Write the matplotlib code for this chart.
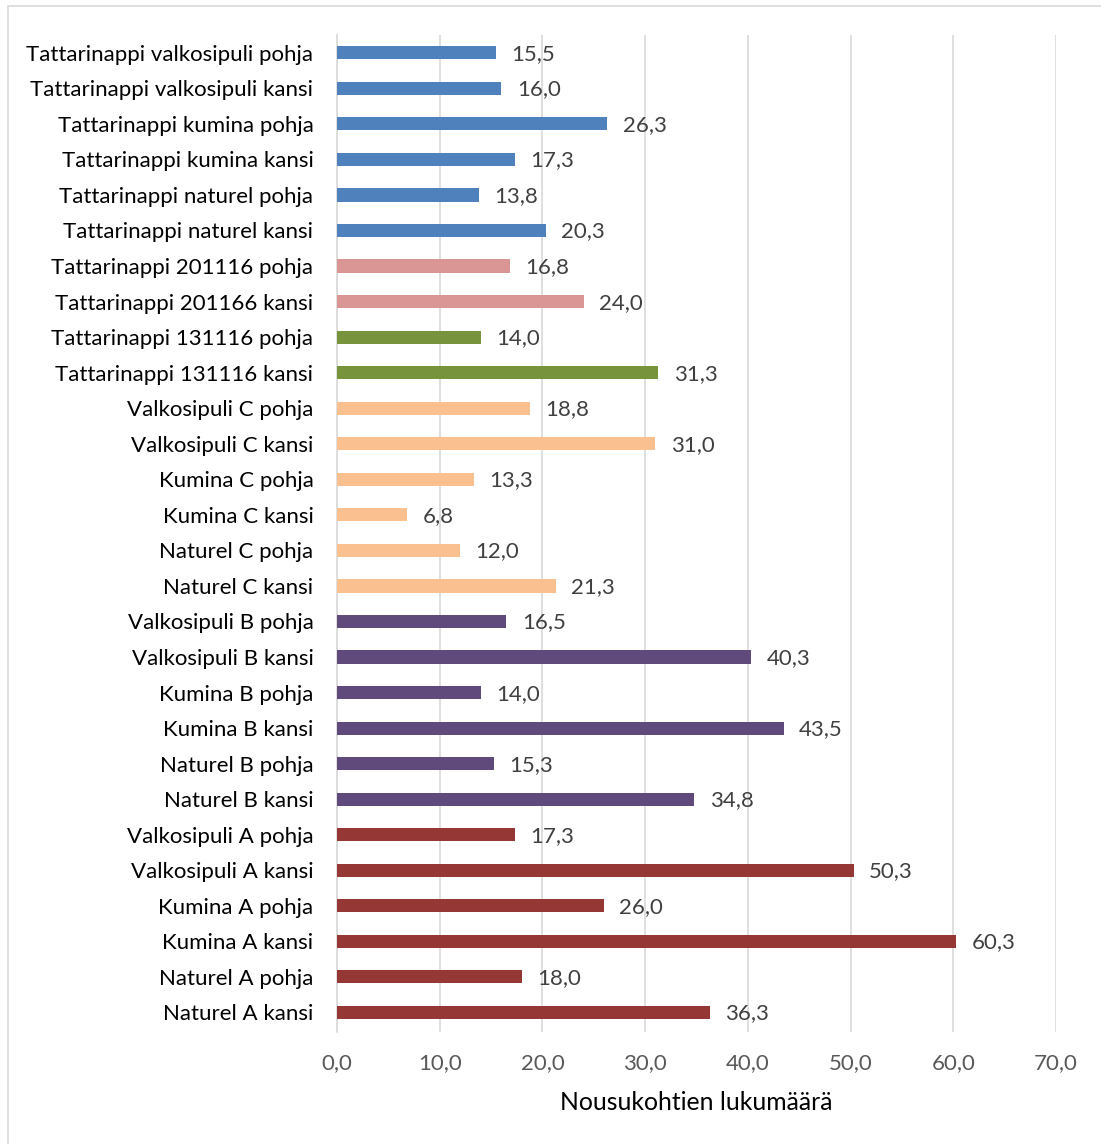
import matplotlib
matplotlib.use("Agg")
from matplotlib import pyplot
from matplotlib.patches import Rectangle

# rows listed bottom to top
labels = [
    "Naturel A kansi", "Naturel A pohja", "Kumina A kansi", "Kumina A pohja",
    "Valkosipuli A kansi", "Valkosipuli A pohja",
    "Naturel B kansi", "Naturel B pohja", "Kumina B kansi", "Kumina B pohja",
    "Valkosipuli B kansi", "Valkosipuli B pohja",
    "Naturel C kansi", "Naturel C pohja", "Kumina C kansi", "Kumina C pohja",
    "Valkosipuli C kansi", "Valkosipuli C pohja",
    "Tattarinappi 131116 kansi", "Tattarinappi 131116 pohja",
    "Tattarinappi 201166 kansi", "Tattarinappi 201116 pohja",
    "Tattarinappi naturel kansi", "Tattarinappi naturel pohja",
    "Tattarinappi kumina kansi", "Tattarinappi kumina pohja",
    "Tattarinappi valkosipuli kansi", "Tattarinappi valkosipuli pohja",
]
values = [
    36.3, 18.0, 60.3, 26.0, 50.3, 17.3,
    34.8, 15.3, 43.5, 14.0, 40.3, 16.5,
    21.3, 12.0, 6.8, 13.3, 31.0, 18.8,
    31.3, 14.0,
    24.0, 16.8,
    20.3, 13.8, 17.3, 26.3, 16.0, 15.5,
]
groups = ["A"] * 6 + ["B"] * 6 + ["C"] * 6 + ["131116"] * 2 + ["2011"] * 2 + ["tattari"] * 6
group_colors = {
    "A": "#953735",
    "B": "#604A7B",
    "C": "#FAC090",
    "131116": "#77933C",
    "2011": "#D99694",
    "tattari": "#4F81BD",
}
xticks = [0, 10, 20, 30, 40, 50, 60, 70]

pyplot.rcParams["font.family"] = ["Lato", "DejaVu Sans"]

fig = pyplot.figure(figsize=(11.01, 11.44), dpi=100)
fig.patches.append(Rectangle((8 / 1101, -0.01), 1.0, (1144 - 6) / 1144 + 0.01,
                             transform=fig.transFigure, fill=False,
                             edgecolor="#D9D9D9", linewidth=1.2))
ax = fig.add_axes([337 / 1101, 112 / 1144, (1056 - 337) / 1101, (1109 - 112) / 1144])

ypos = list(range(len(labels)))
colors = [group_colors[g] for g in groups]
ax.barh(ypos, values, height=0.37, color=colors, zorder=3)

for y, v in zip(ypos, values):
    ax.text(v + 1.5, y - 0.03, f"{v:.1f}".replace(".", ","), va="center", ha="left",
            fontsize=16, color="#404040")

ax.set_xlim(0, 70)
ax.set_ylim(-0.55, len(labels) - 0.5)
ax.set_xticks(xticks)
ax.set_xticklabels([f"{t:.1f}".replace(".", ",") for t in xticks], fontsize=16, color="#595959")
ax.set_yticks(ypos)
ax.set_yticklabels(labels, fontsize=16, color="black")
ax.tick_params(length=0, pad=17, axis="y")
ax.tick_params(length=0, pad=15, axis="x")
ax.xaxis.grid(True, color="#D9D9D9", linewidth=1.2, zorder=0)
for s in ["top", "right", "bottom"]:
    ax.spines[s].set_visible(False)
ax.spines["left"].set_color("#D9D9D9")
ax.spines["left"].set_linewidth(1.2)
ax.set_xlabel("Nousukohtien lukumäärä", fontsize=17.8, color="black", labelpad=13)

fig.savefig("out.png", dpi=100)
